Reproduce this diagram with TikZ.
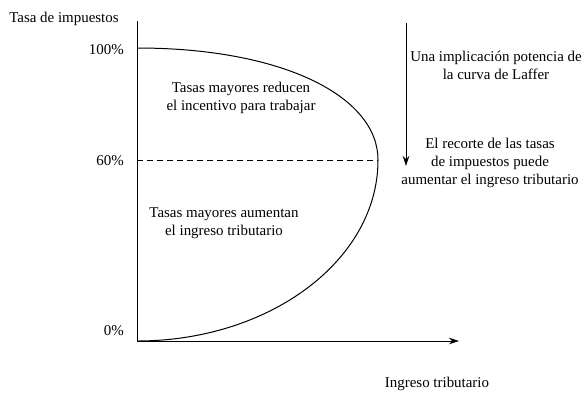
\documentclass[tikz,border=0pt]{standalone}
\usepackage{fontspec}
\setmainfont{Liberation Serif}
\usetikzlibrary{arrows.meta}
\begin{document}
\begin{tikzpicture}[x=1bp,y=-1bp,
  lbl/.style={font=\fontsize{15}{18}\selectfont, inner sep=0pt, align=center},
  axisline/.style={line width=0.8bp},
  curveline/.style={line width=1bp},
  tip/.style={-{Stealth[length=10bp,width=6.5bp]}}]
\useasboundingbox (0,0) rectangle (585,393);
% axes
\coordinate (O) at (137,341);
\coordinate (ytop) at (137,21);
\coordinate (xend) at (459,341);
\draw[axisline] (ytop) -- (O);
\draw[axisline,tip] (O) -- (xend);
% curve
\coordinate (P100) at (137,48);
\coordinate (P60) at (378,160);
\coordinate (Y60) at (137,160);
\draw[curveline] (P100) .. controls (282,48) and (378,96) .. (P60)
  .. controls (378,260) and (270,341) .. (O);
\draw[axisline,dash pattern=on 6bp off 4bp] (Y60) -- (P60);
% arrow
\coordinate (atop) at (406,23);
\coordinate (abot) at (406,166);
\draw[axisline,tip] (atop) -- (abot);
% labels
\node[lbl,anchor=center] (ylab) at (64,19) {Tasa de impuestos};
\node[lbl,anchor=east] (l100) at (124,50) {100\%};
\node[lbl,anchor=east] (l60) at (124,161) {60\%};
\node[lbl,anchor=east] (l0) at (124,331) {0\%};
\node[lbl] (t1) at (241,98) {Tasas mayores reducen\\el incentivo para trabajar};
\node[lbl] (t2) at (224,223) {Tasas mayores aumentan\\el ingreso tributario};
\node[lbl] (t3) at (496,65) {Una implicación potencia de\\la curva de Laffer};
\node[lbl] (t4) at (490,163) {El recorte de las tasas\\de impuestos puede\\aumentar el ingreso tributario};
\node[lbl] (xlab) at (437,384) {Ingreso tributario};
\end{tikzpicture}
\end{document}
